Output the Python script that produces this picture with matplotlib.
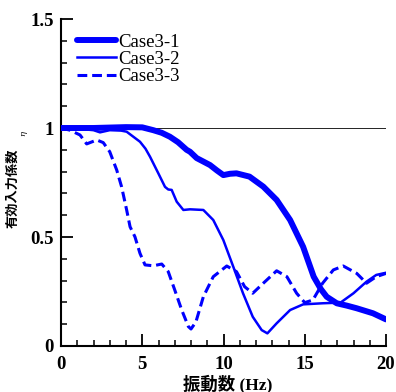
import matplotlib
matplotlib.use('Agg')
import matplotlib.pyplot as plt
from matplotlib.ticker import MultipleLocator

# Case3-1 (thick)
x1 = [0, 1, 2, 3, 4, 5, 5.68, 6.2, 6.7, 7.2, 7.73, 7.94, 8.35, 8.76, 9.17, 9.6, 9.99, 10.4,
      10.8, 11.6, 12.45, 13.27, 14.1, 14.9, 15.55, 16.0, 16.35, 16.97, 17.6, 18.2, 19.2, 20]
y1 = [1.0, 1.0, 1.0, 1.002, 1.004, 1.003, 0.99, 0.978, 0.96, 0.935, 0.90, 0.891, 0.862, 0.846,
      0.83, 0.805, 0.784, 0.79, 0.792, 0.777, 0.731, 0.67, 0.578, 0.455, 0.318, 0.26, 0.226,
      0.196, 0.185, 0.173, 0.15, 0.122]

# Case3-2 (thin)
x2 = [0, 1, 2, 2.4, 3, 3.7, 4.04, 4.86, 5.2, 5.48, 5.99, 6.4, 6.6, 6.81, 7.12, 7.53, 7.94,
      8.76, 9.37, 9.99, 10.6, 11.2, 11.8, 12.35, 12.7, 13.27, 14.1, 14.9, 16.1, 17.2, 18.0,
      18.8, 19.4, 20]
y2 = [1.0, 0.997, 0.99, 0.98, 0.99, 0.988, 0.983, 0.937, 0.905, 0.868, 0.792, 0.73, 0.718,
      0.716, 0.662, 0.624, 0.627, 0.624, 0.578, 0.486, 0.364, 0.242, 0.134, 0.073, 0.058,
      0.104, 0.165, 0.191, 0.196, 0.199, 0.242, 0.295, 0.326, 0.336]

# Case3-3 (dashed)
x3 = [0, 0.55, 1.17, 1.58, 2.2, 2.6, 3.0, 3.43, 3.73, 4.04, 4.25, 4.55, 4.86, 5.17, 5.68,
      6.2, 6.6, 7.0, 7.43, 7.84, 8.0, 8.3, 8.76, 9.37, 10.2, 10.8, 11.3, 11.8, 12.45, 13.27,
      13.9, 14.5, 15.0, 15.5, 16.1, 16.76, 17.37, 18.2, 18.8, 19.4, 20]
y3 = [1.0, 0.99, 0.968, 0.927, 0.945, 0.933, 0.891, 0.807, 0.73, 0.624, 0.547, 0.501, 0.425,
      0.372, 0.368, 0.376, 0.341, 0.257, 0.165, 0.089, 0.078, 0.11, 0.226, 0.318, 0.367, 0.341,
      0.272, 0.242, 0.288, 0.345, 0.318, 0.242, 0.199, 0.211, 0.288, 0.349, 0.367, 0.333,
      0.288, 0.318, 0.333]

xticks = [0, 5, 10, 15, 20]
xtick_labels = ['0', '5', '10', '15', '20']
yticks = [0, 0.5, 1, 1.5]
ytick_labels = ['0', '0.5', '1', '1.5']

serif = ['Liberation Serif', 'Noto Sans CJK JP']
cjk = ['Noto Sans CJK JP', 'DejaVu Sans']

fig = plt.figure(figsize=(3.96, 3.92), dpi=100)
ax = fig.add_axes([61 / 396, 46 / 392, 325 / 396, 327 / 392])

blue = '#0000ff'
ax.axhline(1.0, color='black', lw=0.6, zorder=1)
ax.plot(x1, y1, color=blue, lw=4.3, solid_joinstyle='round', solid_capstyle='round',
        label='Case3-1', zorder=3)
ax.plot(x2, y2, color=blue, lw=1.8, solid_joinstyle='round', label='Case3-2', zorder=3)
ax.plot(x3, y3, color=blue, lw=2.2, ls=(0, (3.2, 1.6)), label='Case3-3', zorder=3)

ax.set_xlim(0, 20)
ax.set_ylim(0, 1.5)
ax.set_xticks(xticks)
ax.set_xticklabels(xtick_labels)
ax.set_yticks(yticks)
ax.set_yticklabels(ytick_labels)
ax.xaxis.set_minor_locator(MultipleLocator(1))
ax.yaxis.set_minor_locator(MultipleLocator(0.1))

for s in ['top', 'right']:
    ax.spines[s].set_visible(False)
for s in ['left', 'bottom']:
    ax.spines[s].set_linewidth(1.5)

ax.tick_params(which='major', direction='in', length=8.5, width=1.3)
ax.tick_params(which='minor', direction='in', length=4.5, width=1.1)
ax.tick_params(axis='x', which='major', pad=7)
ax.tick_params(axis='y', which='major', pad=5)
for lab in ax.get_xticklabels() + ax.get_yticklabels():
    lab.set_family(serif)
    lab.set_fontweight('bold')
    lab.set_fontsize(13.5)

leg = ax.legend(loc='upper left', bbox_to_anchor=(0.048, 0.955), frameon=False,
                handlelength=2.1, handletextpad=0.12, labelspacing=0.0, borderpad=0,
                borderaxespad=0, prop={'family': serif, 'size': 13.5})

fig.text(228 / 396, 1 - 384 / 392, '振動数 (Hz)', ha='center', va='center',
         family=serif, fontweight='bold', fontsize=12.5)
fig.text(12 / 396, 1 - 188 / 392, '有効入力係数', ha='center', va='center', rotation=90,
         family=cjk, fontweight='bold', fontsize=9.5)
fig.text(23 / 396, 1 - 133 / 392, 'η', ha='center', va='center', rotation=90,
         family=['DejaVu Serif'], style='italic', fontsize=6)

fig.savefig('out.png', dpi=100)
